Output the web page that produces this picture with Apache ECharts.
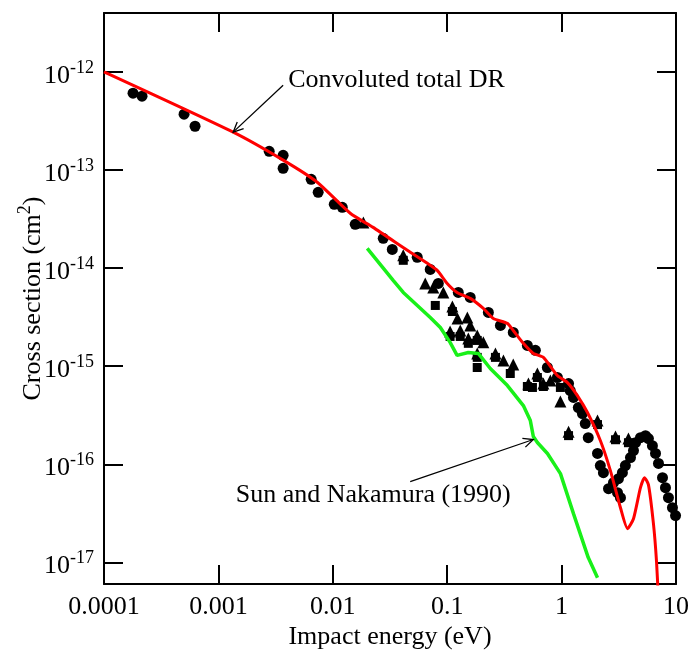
<!DOCTYPE html>
<html>
<head>
<meta charset="utf-8">
<script src="https://cdn.jsdelivr.net/npm/echarts@6/dist/echarts.min.js"></script>
<style>
  html, body { margin: 0; padding: 0; background: #ffffff; }
  #chart { width: 692px; height: 657px; }
</style>
</head>
<body>
<div id="chart"></div>
<script>
// Impact energy in eV, cross section in cm^2 (both plotted on log10 scales)
const xTickLabels = ['0.0001', '0.001', '0.01', '0.1', '1', '10'];
const xTickExponents = [-4, -3, -2, -1, 0, 1];
const yTickExponents = [-17, -16, -15, -14, -13, -12];

// Convoluted total DR (theory)
const drEnergy = [1.0e-4, 1.346e-3, 3.68e-3, 7.31e-3, 1.42e-2, 2.25e-2, 4.48e-2, 6.70e-2, 8.18e-2, 0.100,
  0.122, 0.159, 0.207, 0.253, 0.336, 0.378, 0.463, 0.566, 0.693, 0.918,
  1.125, 1.374, 1.683, 2.18, 2.67, 3.27, 3.77, 4.25, 4.89, 5.30,
  5.74, 6.35, 6.75, 7.03];
const drSigma = [1.0e-12, 2.43e-13, 1.26e-13, 7.50e-14, 3.62e-14, 2.60e-14, 1.52e-14, 1.12e-14, 9.48e-15, 6.98e-15,
  5.65e-15, 4.91e-15, 3.88e-15, 3.07e-15, 2.73e-15, 2.31e-15, 1.71e-15, 1.35e-15, 1.23e-15, 8.04e-16,
  6.81e-16, 5.02e-16, 3.37e-16, 1.75e-16, 8.63e-17, 3.61e-17, 2.21e-17, 2.79e-17, 5.78e-17, 7.31e-17,
  6.21e-17, 2.48e-17, 1.04e-17, 4.07e-18];

// Sun and Nakamura (1990)
const snEnergy = [0.0200, 0.0337, 0.0413, 0.0711, 0.0871, 0.106, 0.122, 0.153, 0.187, 0.238,
  0.336, 0.463, 0.533, 0.566, 0.614, 0.752, 0.977, 1.27, 1.71, 2.06];
const snSigma = [1.59e-14, 7.50e-15, 5.65e-15, 3.14e-15, 2.48e-15, 1.75e-15, 1.29e-15, 1.38e-15, 1.35e-15, 9.48e-16,
  6.35e-16, 3.97e-16, 2.79e-16, 1.92e-16, 1.67e-16, 1.29e-16, 8.04e-17, 3.14e-17, 1.12e-17, 6.98e-18];

// Measurements (circles)
const circleEnergy = [1.794e-4, 2.15e-4, 5.01e-4, 6.25e-4, 2.78e-3, 3.68e-3, 3.68e-3, 6.47e-3, 7.45e-3, 1.03e-2,
  1.21e-2, 1.57e-2, 2.76e-2, 3.31e-2, 5.47e-2, 7.11e-2, 8.36e-2, 0.125, 0.159, 0.229,
  0.292, 0.378, 0.502, 0.590, 0.751, 0.919, 1.15, 1.19, 1.27, 1.40,
  1.52, 1.61, 1.71, 2.06, 2.18, 2.32, 2.57, 2.84, 3.08, 3.27,
  3.14, 3.40, 3.61, 4.00, 4.25, 4.43, 4.89, 5.41, 5.74, 6.22,
  6.62, 7.03, 7.62, 8.09, 8.59, 9.31, 9.91];
const circleSigma = [6.06e-13, 5.65e-13, 3.70e-13, 2.79e-13, 1.55e-13, 1.41e-13, 1.04e-13, 8.04e-14, 5.92e-14, 4.47e-14,
  4.16e-14, 2.79e-14, 2.01e-14, 1.55e-14, 1.29e-14, 9.70e-15, 6.98e-15, 5.65e-15, 5.02e-15, 3.53e-15,
  2.60e-15, 2.21e-15, 1.63e-15, 1.45e-15, 9.70e-16, 7.67e-16, 6.65e-16, 5.65e-16, 4.80e-16, 3.79e-16,
  3.29e-16, 2.60e-16, 1.87e-16, 1.29e-16, 9.70e-17, 8.22e-17, 5.65e-17, 6.50e-17, 5.14e-17, 4.57e-17,
  7.14e-17, 8.22e-17, 9.70e-17, 1.17e-16, 1.38e-16, 1.66e-16, 1.87e-16, 1.96e-16, 1.83e-16, 1.55e-16,
  1.29e-16, 1.02e-16, 7.31e-17, 5.78e-17, 4.57e-17, 3.61e-17, 3.00e-17];

// Measurements (triangles)
const triangleEnergy = [1.85e-2, 4.13e-2, 6.43e-2, 7.55e-2, 9.25e-2, 0.111, 0.123, 0.150, 0.159, 0.106,
  0.130, 0.153, 0.183, 0.207, 0.183, 0.264, 0.310, 0.378, 0.614, 0.513,
  0.693, 0.798, 0.976, 1.15, 2.06, 2.96, 3.84];
const triangleSigma = [2.92e-14, 1.35e-14, 6.98e-15, 6.35e-15, 5.65e-15, 4.06e-15, 3.07e-15, 3.14e-15, 2.60e-15, 2.26e-15,
  2.31e-15, 1.92e-15, 2.06e-15, 1.75e-15, 1.35e-15, 1.35e-15, 1.14e-15, 1.04e-15, 8.43e-16, 6.65e-16,
  6.65e-16, 7.14e-16, 4.36e-16, 2.15e-16, 2.79e-16, 1.92e-16, 1.83e-16];

// Measurements (squares)
const squareEnergy = [4.13e-2, 7.87e-2, 0.111, 0.106, 0.130, 0.153, 0.183, 0.183, 0.183, 0.264,
  0.356, 0.502, 0.556, 0.614, 0.693, 0.976, 1.15, 2.06, 2.96, 3.84];
const squareSigma = [1.20e-14, 4.16e-15, 3.61e-15, 2.01e-15, 2.01e-15, 1.71e-15, 1.83e-15, 1.23e-15, 9.70e-16, 1.23e-15,
  8.43e-16, 6.21e-16, 6.07e-16, 7.67e-16, 6.21e-16, 6.07e-16, 1.96e-16, 2.54e-16, 1.78e-16, 1.66e-16];

// Annotation arrows: [energy, cross section] of tail and tip
const drNote = { text: 'Convoluted total DR', from: [3.68e-3, 7.32e-13], to: [1.346e-3, 2.43e-13] };
const snNote = { text: 'Sun and Nakamura (1990)', from: [0.0475, 6.65e-17], to: [0.566, 1.79e-16] };

const FONT = '"Liberation Serif", "Times New Roman", serif';
const INK = '#000000';

const toLog = (xs, ys) => xs.map((x, i) => [Math.log10(x), Math.log10(ys[i])]);
const toLogPt = p => [Math.log10(p[0]), Math.log10(p[1])];

const chart = echarts.init(document.getElementById('chart'), null, { renderer: 'canvas' });

const Y_MIN = -17.22, Y_MAX = -11.40;

const frameLine = { show: true, onZero: false, lineStyle: { color: INK, width: 2 } };
const innerTick = { show: true, inside: true, length: 19, lineStyle: { color: INK, width: 2 } };
const solidMark = { color: INK, opacity: 1 };

const option = {
  animation: false,
  backgroundColor: '#ffffff',
  grid: { left: 104, right: 16, top: 13, bottom: 73, containLabel: false, outerBoundsMode: 'none' },
  xAxis: [
    {
      type: 'value', position: 'bottom', min: -4, max: 1, interval: 1,
      axisLine: frameLine, axisTick: innerTick, splitLine: { show: false },
      axisLabel: {
        color: INK, fontFamily: FONT, fontSize: 26, margin: 10,
        formatter: v => xTickLabels[xTickExponents.indexOf(Math.round(v))] || ''
      },
      name: 'Impact energy (eV)', nameLocation: 'middle', nameGap: 40, nameMoveOverlap: false,
      nameTextStyle: { color: INK, fontFamily: FONT, fontSize: 26 }
    },
    {
      type: 'value', position: 'top', min: -4, max: 1, interval: 1,
      axisLine: frameLine, axisTick: innerTick, axisLabel: { show: false }, splitLine: { show: false }
    }
  ],
  yAxis: [
    {
      type: 'value', position: 'left', min: Y_MIN, max: Y_MAX,
      axisLine: frameLine,
      axisTick: Object.assign({ customValues: yTickExponents }, innerTick),
      splitLine: { show: false },
      axisLabel: {
        customValues: yTickExponents, margin: 10, padding: [8, 0, 0, 0],
        formatter: v => '{b|10}{s|' + Math.round(v) + '}',
        rich: {
          b: { color: INK, fontFamily: FONT, fontSize: 26, lineHeight: 34 },
          s: { color: INK, fontFamily: FONT, fontSize: 18, lineHeight: 18, verticalAlign: 'top' }
        }
      },
      name: '{m|Cross section (cm}{s|2}{m|)}', nameLocation: 'middle', nameGap: 54, nameMoveOverlap: false,
      nameTextStyle: {
        rich: {
          m: { color: INK, fontFamily: FONT, fontSize: 26, lineHeight: 34 },
          s: { color: INK, fontFamily: FONT, fontSize: 18, lineHeight: 18, verticalAlign: 'top' }
        }
      }
    },
    {
      type: 'value', position: 'right', min: Y_MIN, max: Y_MAX,
      axisLine: frameLine,
      axisTick: Object.assign({ customValues: yTickExponents }, innerTick),
      axisLabel: { show: false }, splitLine: { show: false }
    }
  ],
  series: [
    {
      type: 'scatter', name: 'circles', data: toLog(circleEnergy, circleSigma),
      symbol: 'circle', symbolSize: 11, itemStyle: solidMark, clip: false
    },
    {
      type: 'scatter', name: 'squares', data: toLog(squareEnergy, squareSigma),
      symbol: 'rect', symbolSize: 9, itemStyle: solidMark
    },
    {
      type: 'scatter', name: 'triangles', data: toLog(triangleEnergy, triangleSigma),
      symbol: 'triangle', symbolSize: 12, itemStyle: solidMark
    },
    {
      type: 'line', name: 'Sun and Nakamura (1990)', data: toLog(snEnergy, snSigma),
      showSymbol: false, symbol: 'none', lineStyle: { color: '#19f019', width: 3.5 }
    },
    {
      type: 'line', name: 'Convoluted total DR', data: toLog(drEnergy, drSigma),
      showSymbol: false, symbol: 'none', smooth: 0.2, clip: true,
      lineStyle: { color: '#ff0000', width: 3 }
    }
  ]
};

chart.setOption(option);

// Arrow annotations, placed from data coordinates
function arrowGraphics(note, textOffset, textAlign) {
  const a = chart.convertToPixel({ gridIndex: 0 }, toLogPt(note.from));
  const b = chart.convertToPixel({ gridIndex: 0 }, toLogPt(note.to));
  const dx = a[0] - b[0], dy = a[1] - b[1];
  const len = Math.hypot(dx, dy);
  const ux = dx / len, uy = dy / len;
  const head = 11, ang = 25 * Math.PI / 180;
  const rot = (s) => [
    b[0] + head * (ux * Math.cos(s * ang) - uy * Math.sin(s * ang)),
    b[1] + head * (ux * Math.sin(s * ang) + uy * Math.cos(s * ang))
  ];
  return [
    { type: 'line', shape: { x1: a[0], y1: a[1], x2: b[0], y2: b[1] }, style: { stroke: INK, lineWidth: 1.3 }, z: 10 },
    { type: 'polyline', shape: { points: [rot(1), b, rot(-1)] }, style: { stroke: INK, lineWidth: 1.3, fill: null }, z: 10 },
    {
      type: 'text', x: a[0] + textOffset[0], y: a[1] + textOffset[1], z: 10,
      style: { text: note.text, fill: INK, font: '26px ' + FONT, textAlign: textAlign, textVerticalAlign: 'middle' }
    }
  ];
}

chart.setOption({
  graphic: [].concat(
    arrowGraphics(drNote, [5, -5], 'left'),
    arrowGraphics(snNote, [-37, 13], 'center')
  )
});
</script>
</body>
</html>
